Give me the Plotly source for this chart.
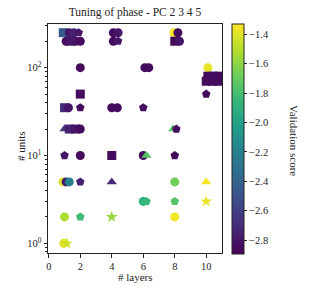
import plotly.graph_objects as go

# ---- data ----
layers = [0.92, 1.3, 1.6, 1.9, 1.1, 1.4, 1.7, 2.0,
          4.1, 4.4, 4.1, 4.4,
          7.95, 8.2, 8.0, 8.3,
          2.0, 6.1, 6.35, 10.1, 10.1, 10.45, 10.8, 10.0, 10.4, 10.8,
          10.0, 2.0,
          1.0, 1.25, 2.0, 4.0, 4.35, 6.0,
          1.0, 1.3, 1.7, 2.0, 7.9, 8.1,
          1.0, 2.0, 4.0, 6.0, 6.2, 8.0,
          0.9, 1.1, 1.3, 2.0, 4.0, 8.0, 10.0,
          6.0, 6.2, 8.0, 10.0,
          1.0, 2.0, 4.0, 8.0,
          0.95, 1.15]
units = [250, 250, 250, 250, 200, 200, 200, 200,
         250, 250, 200, 200,
         250, 250, 200, 200,
         100, 100, 100, 100, 80, 80, 80, 70, 70, 70,
         50, 50,
         35, 35, 35, 35, 35, 35,
         20, 20, 20, 20, 20, 20,
         10, 10, 10, 10, 10, 10,
         5, 5, 5, 5, 5, 5, 5,
         3, 3, 3, 3,
         2, 2, 2, 2,
         1, 1]
scores = [-2.45, -2.8, -2.75, -2.8, -2.85, -2.8, -2.8, -2.85,
          -2.85, -2.8, -2.85, -2.8,
          -1.35, -2.85, -2.85, -2.8,
          -2.85, -2.85, -2.85, -1.38, -2.85, -2.85, -2.85, -2.85, -2.85, -2.85,
          -2.85, -2.85,
          -2.7, -2.8, -2.85, -2.85, -2.85, -2.85,
          -2.65, -2.75, -2.8, -2.85, -1.75, -2.85,
          -2.8, -2.85, -2.85, -2.85, -1.75, -2.85,
          -1.4, -2.8, -2.2, -2.75, -2.7, -1.68, -1.35,
          -1.9, -1.85, -1.75, -1.38,
          -1.52, -1.82, -1.58, -1.36,
          -1.4, -1.45]
groups = ["square", "circle", "circle", "pentagon", "circle", "square", "circle", "circle",
          "circle", "circle", "circle", "pentagon",
          "circle", "circle", "square", "circle",
          "circle", "circle", "circle", "circle", "square", "square", "square", "square", "square", "square",
          "pentagon", "square",
          "square", "circle", "pentagon", "circle", "circle", "pentagon",
          "triangle-up", "square", "square", "circle", "triangle-up", "pentagon",
          "pentagon", "circle", "square", "circle", "triangle-up", "pentagon",
          "circle", "circle", "circle", "pentagon", "triangle-up", "circle", "triangle-up",
          "circle", "pentagon", "pentagon", "star",
          "circle", "pentagon", "star", "circle",
          "circle", "star"]

cbar_ticks = [-1.4, -1.6, -1.8, -2.0, -2.2, -2.4, -2.6, -2.8]
x_ticks = [0, 2, 4, 6, 8, 10]
y_ticks = [1, 10, 100]
y_ticktext = ["10<sup>0</sup>", "10<sup>1</sup>", "10<sup>2</sup>"]
y_minor = [m * 10 ** k for k in range(-1, 3) for m in range(2, 10)]

FONT = "Liberation Serif"
L, R, T, B = 48, 222, 24, 253
W, H = 317, 297


def px_x(p):
    return (p - L) / (R - L)


def px_y(p):
    return (B - p) / (B - T)


fig = go.Figure()
fig.add_trace(go.Scatter(
    x=layers, y=units, mode="markers",
    marker=dict(
        symbol=groups, size=9, color=scores, colorscale="Viridis",
        cmin=-2.895, cmax=-1.33, line=dict(width=0),
        colorbar=dict(
            x=px_x(232), xanchor="left", xpad=0, y=px_y(139), yanchor="middle", ypad=0,
            len=230, lenmode="pixels", thickness=12, thicknessmode="pixels",
            outlinecolor="#222", outlinewidth=1,
            tickvals=cbar_ticks, ticktext=[f"\u2212{abs(v):.1f}" for v in cbar_ticks],
            ticks="outside", ticklen=3, tickcolor="#222",
            tickfont=dict(family=FONT, size=10.5, color="#222"),
        ),
    ),
    showlegend=False,
    hoverinfo="skip",
))

fig.update_layout(
    width=W, height=H,
    margin=dict(l=L, r=W - R, t=T, b=H - B, autoexpand=False),
    paper_bgcolor="white", plot_bgcolor="white",
    font=dict(family=FONT, color="#222", size=10),
    title=dict(text="Tuning of phase - PC 2 3 4 5", xref="container", yref="container",
               x=(L + R) / 2 / W, xanchor="center",
               y=1 - 12 / H, yanchor="middle", font=dict(family=FONT, size=11.5, color="#222")),
    annotations=[
        dict(text="Validation score", textangle=90, x=px_x(302), y=px_y(140),
             xref="paper", yref="paper", showarrow=False,
             font=dict(family=FONT, size=11, color="#222")),
        dict(text="# layers", x=px_x(135), y=px_y(285),
             xref="paper", yref="paper", showarrow=False,
             font=dict(family=FONT, size=11, color="#222")),
        dict(text="# units", textangle=-90, x=px_x(13), y=px_y(146),
             xref="paper", yref="paper", showarrow=False,
             font=dict(family=FONT, size=11, color="#222")),
    ],
)
fig.update_xaxes(
    range=[-0.05, 11.0], tickvals=x_ticks, ticks="outside", ticklen=3.5, tickcolor="#222",
    showline=True, linecolor="#222", linewidth=1, mirror=True, showgrid=False, zeroline=False,
    automargin=False, tickfont=dict(family=FONT, size=10.5),
)
fig.update_yaxes(
    type="log", range=[-0.11, 2.497], tickmode="array", tickvals=y_ticks, ticktext=y_ticktext,
    ticks="outside", ticklen=3.5, tickcolor="#222",
    minor=dict(ticks="outside", ticklen=2, tickcolor="#222", showgrid=False,
               tickmode="array", tickvals=y_minor),
    showline=True, linecolor="#222", linewidth=1, mirror=True, showgrid=False, zeroline=False,
    automargin=False, tickfont=dict(family=FONT, size=10.5),
)

fig.write_html("out.html", config={"displayModeBar": False},
               post_script="document.body.style.margin='0';document.body.style.padding='0';")
